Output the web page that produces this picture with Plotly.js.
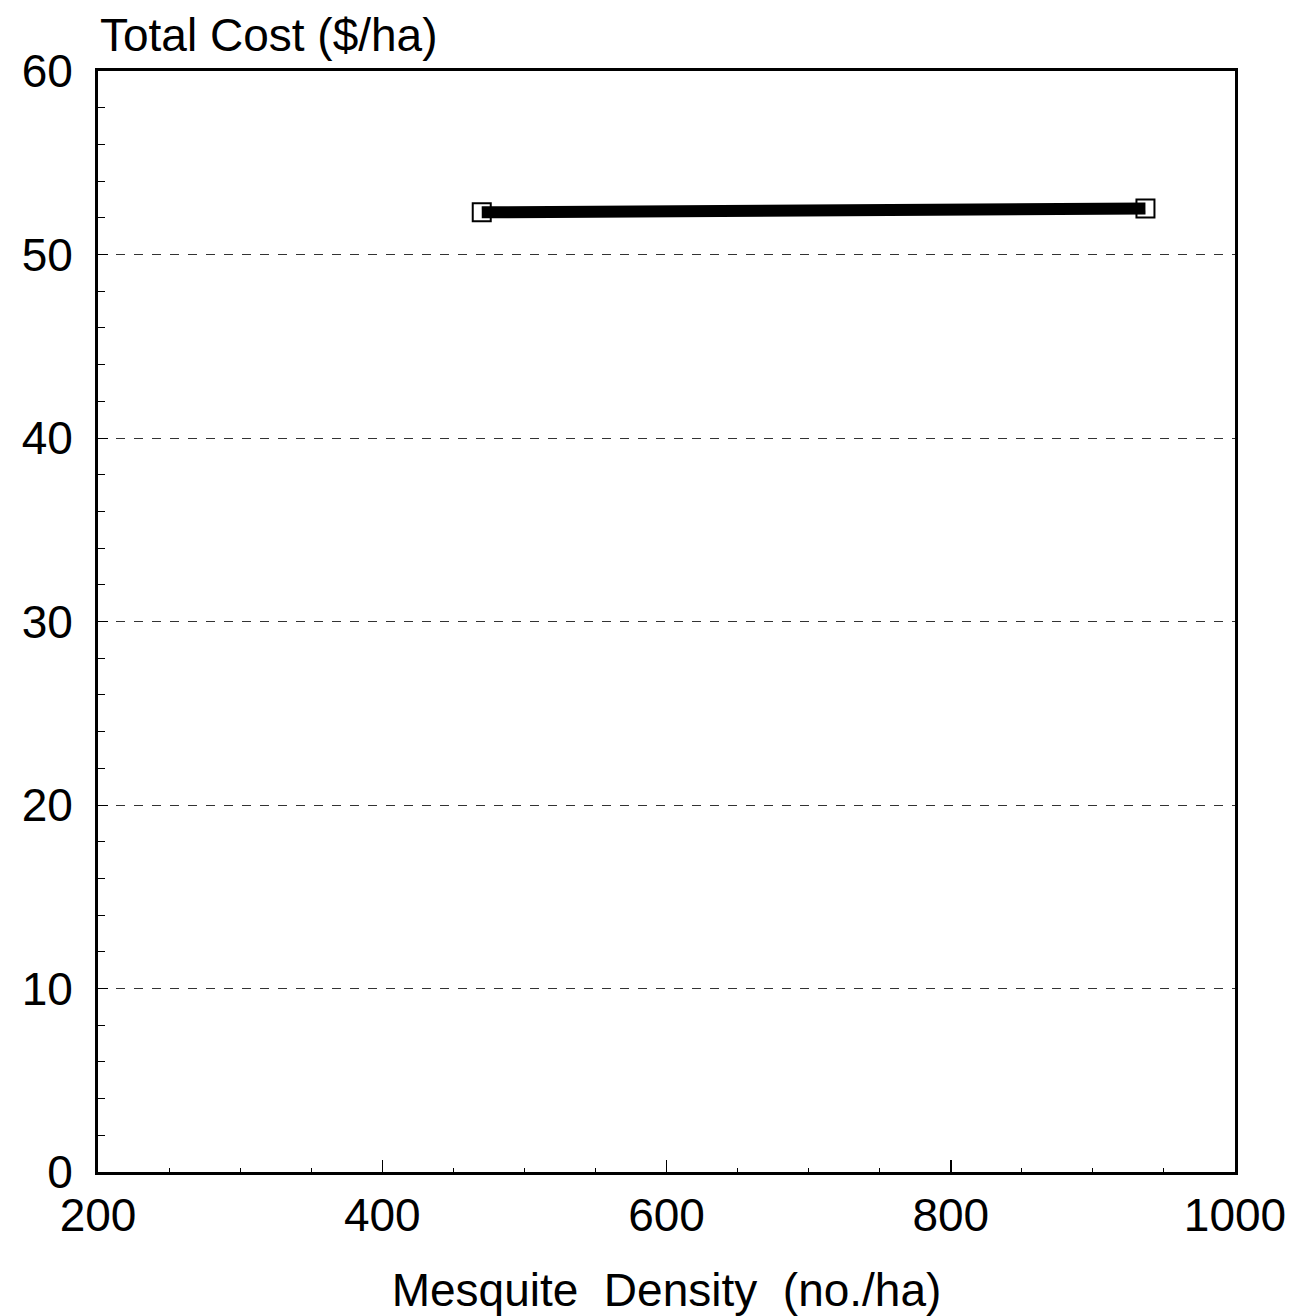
<!DOCTYPE html>
<html>
<head>
<meta charset="utf-8">
<script src="https://cdn.plot.ly/plotly-3.0.1.min.js"></script>
<style>html,body{margin:0;padding:0;background:#fff;}#chart{width:1300px;height:1316px;}</style>
</head>
<body>
<div id="chart"></div>
<script>
const density = [470, 937];
const totalCost = [52.3, 52.5];
const yTitle = "Total Cost ($/ha)";
const xTitle = "Mesquite&nbsp;&nbsp;Density&nbsp;&nbsp;(no./ha)";

const font = "Liberation Sans, Arial, sans-serif";

const trace = {
  x: density,
  y: totalCost,
  type: "scatter",
  mode: "lines+markers",
  line: {color: "#000", width: 12},
  marker: {symbol: "square-open", size: 18, color: "#000", line: {width: 2, color: "#000"}},
  showlegend: false,
  hoverinfo: "skip"
};

const layout = {
  width: 1300,
  height: 1316,
  paper_bgcolor: "#fff",
  plot_bgcolor: "#fff",
  margin: {l: 98, r: 65, t: 71, b: 144},
  font: {family: font, color: "#000", size: 46},
  xaxis: {
    range: [200, 1000],
    tickvals: [200, 400, 600, 800, 1000],
    ticks: "inside",
    ticklen: 12,
    tickwidth: 1.5,
    tickcolor: "#000",
    minor: {dtick: 50, tick0: 200, ticks: "inside", ticklen: 4, tickcolor: "#000", tickwidth: 1},
    showgrid: false,
    zeroline: false,
    showline: true,
    linecolor: "#000",
    linewidth: 3,
    mirror: true,
    ticklabelstandoff: 1,
    tickfont: {size: 46, family: font},
    title: {text: xTitle, font: {size: 46, family: font}, standoff: 47}
  },
  yaxis: {
    range: [0, 60],
    tickvals: [0, 10, 20, 30, 40, 50, 60],
    ticks: "inside",
    ticklen: 10,
    tickwidth: 1,
    tickcolor: "#000",
    minor: {dtick: 2, tick0: 0, ticks: "inside", ticklen: 7, tickcolor: "#000", tickwidth: 1, showgrid: false},
    showgrid: true,
    gridcolor: "#333",
    gridwidth: 1,
    griddash: "dash",
    zeroline: false,
    showline: true,
    linecolor: "#000",
    linewidth: 3,
    mirror: true,
    ticklabelstandoff: 13,
    tickfont: {size: 46, family: font}
  },
  annotations: [{
    text: yTitle,
    xref: "paper", yref: "paper",
    x: 0, y: 1,
    xanchor: "left", yanchor: "bottom",
    yshift: 8,
    showarrow: false,
    font: {size: 46, family: font, color: "#000"}
  }]
};

Plotly.newPlot("chart", [trace], layout, {displayModeBar: false, staticPlot: true});
</script>
</body>
</html>
